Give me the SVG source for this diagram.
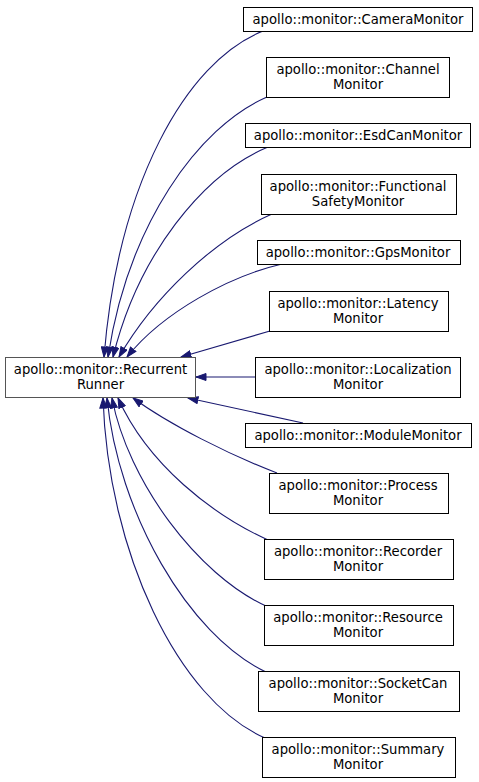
<svg xmlns="http://www.w3.org/2000/svg" width="479" height="782" viewBox="0 0 479 782">
<defs>
<style>
.n rect{fill:#fff;stroke:#000;stroke-width:1}
.base rect{stroke:#555}
text{font-family:"DejaVu Sans","Liberation Sans",sans-serif;font-size:13.2px;fill:#000;text-anchor:middle}
.e path{fill:none;stroke:#191970;stroke-width:1.1;marker-end:url(#ah)}
</style>
<marker id="ah" markerUnits="userSpaceOnUse" markerWidth="11" markerHeight="8" refX="10.5" refY="4" orient="auto">
<path d="M0.5,0.5 L10.5,4 L0.5,7.5 z" fill="#191970" stroke="#191970" stroke-width="1"/>
</marker>
</defs>
<rect width="479" height="782" fill="#fff"/>
<g id="edges" class="e">
<path d="M263,31 C185,62 118,185 104,357"/>
<path d="M267,97 C198,127 128,225 108,357"/>
<path d="M268,147 C203,174 138,255 113,357"/>
<path d="M272,214 C213,240 153,298 119,357"/>
<path d="M282,264 C230,276 163,312 127,357"/>
<path d="M270,331 L181,357"/>
<path d="M255,377 L196,377"/>
<path d="M303,423 L188,398"/>
<path d="M277,473 C230,455 170,425 133,398"/>
<path d="M268,540 C213,515 148,465 118,398"/>
<path d="M266,606 C198,575 128,482 112,398"/>
<path d="M266,672 C188,635 118,512 107,398"/>
<path d="M265,738 C178,700 108,552 103,398"/>
</g>
<g id="RecurrentRunner" class="n base"><rect x="5.5" y="357.5" width="190" height="40"/><text x="100.5" y="374">apollo::monitor::Recurrent</text><text x="100.5" y="388.5">Runner</text></g>
<g id="CameraMonitor" class="n"><rect x="243.5" y="7.5" width="229" height="24"/><text x="358" y="23.5">apollo::monitor::CameraMonitor</text></g>
<g id="ChannelMonitor" class="n"><rect x="266.5" y="57.5" width="183" height="40"/><text x="358" y="74">apollo::monitor::Channel</text><text x="358" y="88.5">Monitor</text></g>
<g id="EsdCanMonitor" class="n"><rect x="245.5" y="123.5" width="225" height="24"/><text x="358" y="139.5">apollo::monitor::EsdCanMonitor</text></g>
<g id="FunctionalSafetyMonitor" class="n"><rect x="261.5" y="174.5" width="195" height="40"/><text x="358" y="191">apollo::monitor::Functional</text><text x="358" y="205.5">SafetyMonitor</text></g>
<g id="GpsMonitor" class="n"><rect x="257.5" y="240.5" width="203" height="24"/><text x="358" y="256.5">apollo::monitor::GpsMonitor</text></g>
<g id="LatencyMonitor" class="n"><rect x="269.5" y="291.5" width="179" height="40"/><text x="358" y="308">apollo::monitor::Latency</text><text x="358" y="322.5">Monitor</text></g>
<g id="LocalizationMonitor" class="n"><rect x="255.5" y="357.5" width="205" height="40"/><text x="358" y="374">apollo::monitor::Localization</text><text x="358" y="388.5">Monitor</text></g>
<g id="ModuleMonitor" class="n"><rect x="245.5" y="423.5" width="226" height="24"/><text x="358" y="439.5">apollo::monitor::ModuleMonitor</text></g>
<g id="ProcessMonitor" class="n"><rect x="269.5" y="473.5" width="179" height="40"/><text x="358" y="490">apollo::monitor::Process</text><text x="358" y="504.5">Monitor</text></g>
<g id="RecorderMonitor" class="n"><rect x="264.5" y="539.5" width="189" height="40"/><text x="358" y="556">apollo::monitor::Recorder</text><text x="358" y="570.5">Monitor</text></g>
<g id="ResourceMonitor" class="n"><rect x="264.5" y="605.5" width="189" height="40"/><text x="358" y="622">apollo::monitor::Resource</text><text x="358" y="636.5">Monitor</text></g>
<g id="SocketCanMonitor" class="n"><rect x="258.5" y="671.5" width="201" height="40"/><text x="358" y="688">apollo::monitor::SocketCan</text><text x="358" y="702.5">Monitor</text></g>
<g id="SummaryMonitor" class="n"><rect x="262.5" y="737.5" width="193" height="40"/><text x="358" y="754">apollo::monitor::Summary</text><text x="358" y="768.5">Monitor</text></g>
</svg>
